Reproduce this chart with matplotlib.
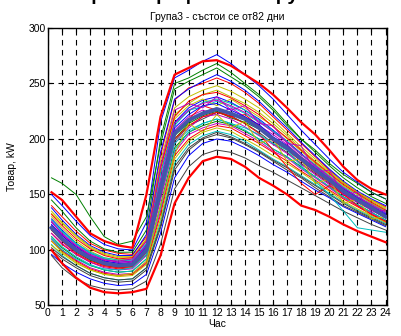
import matplotlib.pyplot as plt

plt.rcParams['font.family'] = ['Liberation Sans', 'DejaVu Sans']

# hours of the samples (first one is the first quarter hour)
hours = [0.25] + list(range(1, 25))

# single days of the group (kW)
days = [
    [128, 118, 106, 97, 92, 89, 90, 105, 170, 215, 228, 235, 238, 233, 226, 218, 208, 198, 187, 176, 166, 156, 148, 140, 133],
    [112, 102, 93, 86, 82, 80, 81, 92, 140, 192, 206, 212, 216, 213, 207, 200, 191, 184, 175, 166, 157, 148, 141, 134, 127],
    [140, 130, 117, 106, 100, 97, 96, 112, 185, 235, 246, 250, 255, 250, 242, 232, 220, 208, 196, 184, 172, 161, 152, 145, 139],
    [105, 95, 86, 79, 75, 73, 74, 84, 125, 178, 195, 203, 207, 204, 198, 190, 182, 175, 167, 159, 151, 143, 136, 130, 124],
    [122, 113, 102, 95, 90, 88, 89, 104, 160, 208, 220, 226, 222, 228, 220, 212, 204, 195, 184, 175, 165, 155, 147, 140, 132],
    [133, 124, 112, 102, 96, 93, 93, 108, 175, 222, 232, 240, 244, 238, 232, 224, 214, 203, 191, 180, 170, 160, 152, 144, 137],
    [118, 108, 98, 91, 86, 84, 85, 96, 148, 198, 212, 218, 224, 221, 214, 206, 196, 188, 178, 169, 160, 151, 143, 136, 129],
    [96, 88, 80, 74, 70, 68, 69, 78, 115, 165, 185, 196, 200, 198, 192, 185, 177, 170, 162, 154, 147, 139, 133, 127, 121],
    [145, 135, 120, 108, 101, 98, 98, 118, 200, 250, 255, 262, 268, 260, 250, 240, 228, 214, 200, 188, 176, 165, 156, 148, 142],
    [115, 105, 96, 89, 85, 83, 84, 98, 152, 205, 218, 230, 226, 220, 222, 212, 198, 190, 180, 170, 161, 150, 143, 137, 130],
    [125, 116, 105, 97, 92, 90, 91, 102, 162, 212, 226, 229, 234, 229, 223, 215, 207, 197, 186, 177, 167, 157, 150, 142, 135],
    [110, 100, 91, 84, 80, 78, 79, 89, 135, 188, 204, 210, 214, 212, 205, 198, 189, 183, 173, 165, 156, 147, 140, 133, 126],
    [130, 120, 108, 99, 93, 91, 92, 110, 172, 218, 230, 236, 230, 236, 228, 220, 212, 200, 189, 178, 168, 158, 150, 142, 135],
    [100, 92, 84, 77, 73, 71, 72, 82, 120, 172, 190, 200, 204, 201, 195, 188, 180, 172, 165, 156, 148, 140, 134, 128, 122],
    [138, 127, 114, 104, 98, 95, 95, 114, 188, 236, 245, 252, 258, 252, 244, 234, 222, 210, 197, 185, 173, 162, 153, 146, 140],
    [120, 111, 101, 93, 88, 86, 87, 100, 155, 200, 214, 221, 225, 219, 215, 209, 199, 191, 181, 172, 162, 153, 145, 138, 131],
    [108, 99, 90, 83, 79, 77, 78, 88, 132, 185, 200, 208, 212, 210, 203, 196, 188, 180, 171, 163, 154, 146, 139, 132, 125],
    [127, 117, 106, 98, 93, 91, 91, 106, 168, 214, 225, 233, 236, 232, 226, 217, 207, 198, 186, 176, 166, 156, 148, 141, 134],
    [115, 106, 96, 89, 84, 82, 83, 95, 145, 196, 210, 220, 222, 218, 211, 203, 195, 187, 177, 168, 159, 150, 143, 136, 129],
    [135, 125, 113, 103, 97, 94, 94, 110, 180, 228, 238, 244, 248, 243, 236, 228, 217, 205, 193, 182, 171, 161, 152, 145, 138],
    [102, 94, 86, 79, 75, 73, 74, 84, 122, 175, 192, 201, 206, 202, 196, 189, 181, 174, 166, 158, 150, 142, 135, 129, 123],
    [123, 113, 103, 95, 90, 88, 88, 103, 158, 210, 222, 230, 232, 226, 220, 213, 202, 194, 183, 174, 164, 155, 147, 139, 132],
    [118, 109, 99, 91, 87, 85, 86, 99, 150, 203, 215, 224, 228, 222, 219, 210, 201, 193, 182, 173, 163, 153, 145, 138, 131],
    [132, 122, 110, 101, 95, 92, 93, 108, 174, 220, 234, 240, 242, 237, 230, 222, 211, 201, 190, 179, 169, 159, 151, 143, 136],
    [112, 103, 94, 87, 82, 80, 81, 92, 138, 190, 206, 214, 218, 214, 208, 200, 191, 184, 174, 166, 157, 148, 141, 134, 127],
    [125, 115, 104, 96, 91, 89, 90, 104, 164, 214, 226, 232, 235, 230, 224, 216, 206, 197, 186, 176, 166, 156, 148, 141, 134],
    [108, 98, 89, 82, 78, 76, 77, 87, 128, 182, 198, 206, 210, 207, 200, 193, 185, 178, 170, 161, 153, 144, 137, 131, 125],
    [95, 84, 74, 68, 65, 64, 65, 72, 105, 155, 175, 186, 190, 188, 183, 176, 170, 163, 156, 149, 142, 135, 129, 123, 118],
    [150, 140, 126, 113, 105, 101, 100, 125, 215, 255, 262, 270, 276, 268, 258, 248, 236, 222, 208, 195, 182, 170, 161, 152, 146],
    [165, 160, 150, 130, 112, 105, 108, 130, 195, 245, 252, 258, 264, 256, 248, 238, 226, 212, 200, 190, 178, 168, 160, 152, 146],
    [118, 108, 97, 90, 86, 84, 85, 98, 150, 200, 212, 220, 224, 220, 214, 205, 190, 175, 160, 150, 158, 150, 140, 132, 126],
    [110, 100, 92, 86, 83, 82, 84, 96, 150, 196, 208, 214, 218, 214, 210, 204, 196, 190, 176, 162, 150, 135, 120, 118, 116],
    [126, 114, 104, 95, 91, 90, 92, 108, 176, 226, 232, 228, 238, 226, 230, 214, 212, 196, 194, 170, 172, 150, 152, 134, 136],
    [104, 97, 88, 82, 78, 77, 79, 90, 140, 186, 214, 206, 222, 210, 216, 196, 200, 180, 182, 160, 164, 142, 146, 128, 130],
]

upper = [152, 145, 130, 115, 108, 104, 102, 150, 220, 258, 264, 270, 271, 266, 258, 250, 240, 228, 215, 204, 190, 175, 163, 155, 150]
lower = [100, 88, 75, 66, 62, 61, 62, 65, 95, 142, 165, 180, 184, 182, 175, 165, 158, 150, 140, 136, 130, 123, 117, 112, 107]
mean = [120, 110, 100, 93, 88, 86, 87, 100, 155, 205, 217, 223, 227, 223, 218, 210, 200, 192, 182, 172, 163, 153, 145, 138, 130]

# old matlab colour order
colors = [(0, 0, 1), (0, 0.5, 0), (1, 0, 0), (0, 0.75, 0.75),
          (0.75, 0, 0.75), (0.75, 0.75, 0), (0.25, 0.25, 0.25)]

fig = plt.figure(figsize=(4.01, 3.36), dpi=100)
ax = fig.add_axes([0.1197, 0.0908, 0.8453, 0.8259])

for i, d in enumerate(days):
    ax.plot(hours, d, color=colors[i % len(colors)], lw=0.7, zorder=2)

ax.plot(hours, upper, color='red', lw=1.6, zorder=3)
ax.plot(hours, lower, color='red', lw=1.6, zorder=3)
ax.plot(hours, mean, color='#4455aa', lw=2.8, zorder=4)

ax.set_xlim(0, 24.1)
ax.set_ylim(50, 300)
ax.set_xticks(range(0, 25))
ax.set_yticks(range(50, 301, 50))
ax.tick_params(direction='in', top=True, right=True, labelsize=7.5,
               length=3, width=0.8, pad=1.5)
ax.grid(True, color='black', linestyle=(0, (5, 4)), linewidth=0.8, zorder=0)
ax.set_axisbelow(True)
for s in ax.spines.values():
    s.set_linewidth(1.0)

ax.set_xlabel('Час', fontsize=7.5, labelpad=1)
ax.set_ylabel('Товар, kW', fontsize=7.5, labelpad=8)
ax.set_title('Група3 - състои се от82 дни', fontsize=7.5, pad=6)

# main title, only its lower part falls inside the picture
fig.text(0.46, 0.999, 'Товарови профили по групи', fontsize=14,
         fontweight='bold', ha='center', va='baseline')

fig.savefig('out.png', dpi=100)
